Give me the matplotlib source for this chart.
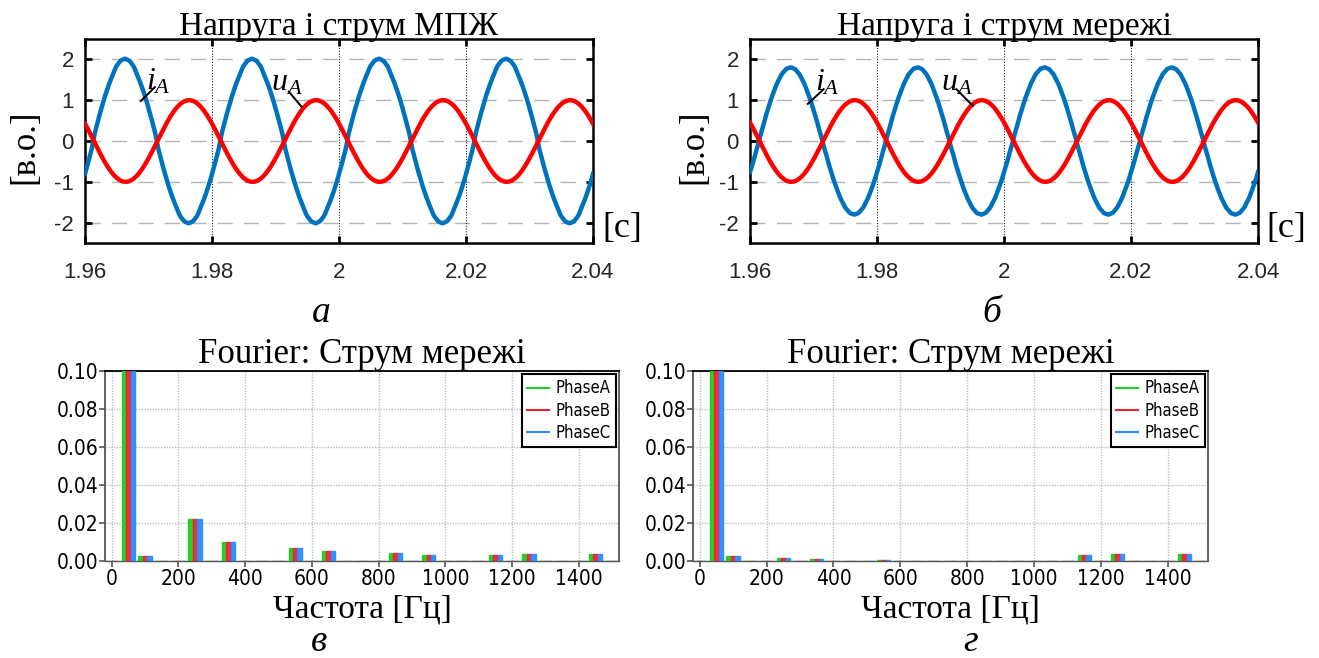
import numpy as np
import matplotlib
matplotlib.use("Agg")
import matplotlib.pyplot as plt
from matplotlib.lines import Line2D
from matplotlib import font_manager

plt.rcParams["axes.unicode_minus"] = False
plt.rcParams["mathtext.fontset"] = "custom"
plt.rcParams["mathtext.rm"] = "Liberation Serif"
plt.rcParams["mathtext.it"] = "Liberation Serif:italic"

W, H = 1319, 658
SERIF = "Liberation Serif"

# вузький шрифт для шкал спектра, якщо він є в системі
_cond = [f for f in font_manager.fontManager.ttflist
         if f.name == "DejaVu Sans" and "ondensed" in f.fname]
NARROW_STRETCH = "condensed" if _cond else "normal"

# гармоніки струму (Гц) та їх амплітуди, в.о.
harm_freq = [0, 50, 100, 150, 200, 250, 300, 350, 400, 450, 500, 550, 600, 650,
             700, 750, 800, 850, 900, 950, 1000, 1050, 1100, 1150, 1200, 1250,
             1300, 1350, 1400, 1450, 1500]
spec_mpzh = [0, 2.0, 0.0028, 0, 0, 0.0223, 0, 0.0102, 0, 0, 0, 0.0070, 0, 0.0051,
             0, 0, 0, 0.0042, 0, 0.0031, 0, 0, 0, 0.0031, 0, 0.0037,
             0, 0, 0, 0.0037, 0]
spec_grid = [0, 1.8, 0.0028, 0, 0, 0.0016, 0, 0.0009, 0, 0, 0, 0.0003, 0, 0,
             0, 0, 0, 0, 0, 0, 0, 0, 0, 0.0033, 0, 0.0039,
             0, 0, 0, 0.0035, 0]

# фаза: момент переходу через нуль (с)
t0_i = [1.9613, 1.9614]
t0_u = [1.9614, 1.9615]
u_amp = [1.0, 1.0]

t_lim = (1.96, 2.04)
t_ticks = [1.96, 1.98, 2.0, 2.02, 2.04]
t_labels = ["1.96", "1.98", "2", "2.02", "2.04"]
y_ticks = [-2, -1, 0, 1, 2]

titles_top = ["Напруга і струм МПЖ", "Напруга і струм мережі"]
titles_bot = ["Fourier: Струм мережі", "Fourier: Струм мережі"]
letters = ["а", "б", "в", "г"]
phases = ["PhaseA", "PhaseB", "PhaseC"]
phase_colors = ["#1fcc1f", "#ee2233", "#2a8cff"]

# підписи кривих: (t, y) тексту та кінці виноски
lbl_i = [(1.9696, 1.47, 1.9688, 0.98, 1.9710, 1.32),
         (1.9703, 1.44, 1.9691, 0.91, 1.9716, 1.27)]
lbl_u = [(1.9893, 1.44, 1.9921, 1.21, 1.9941, 0.84),
         (1.9901, 1.44, 1.9925, 1.27, 1.9951, 0.86)]


def fig_xy(x, y):
    return x / W, 1 - y / H


def axes_rect(x0, y0, x1, y1):
    return [x0 / W, 1 - y1 / H, (x1 - x0) / W, (y1 - y0) / H]


def current(t, t0, spec):
    th = 2 * np.pi * 50 * (t - t0)
    out = np.zeros_like(t)
    for f, a in zip(harm_freq, spec):
        if f > 0 and a > 0:
            out += a * np.sin(f / 50 * th)
    return out


def draw_wave(ax, k, spec):
    t = np.linspace(t_lim[0], t_lim[1], 3001)
    i = current(t, t0_i[k], spec)
    u = -u_amp[k] * np.sin(2 * np.pi * 50 * (t - t0_u[k]))
    ax.plot(t, i, color="#0072BD", lw=3.2, zorder=3)
    ax.plot(t, u, color="#ff0000", lw=3.2, zorder=4)
    ax.set_xlim(*t_lim)
    ax.set_ylim(-2.5, 2.5)
    ax.set_xticks(t_ticks)
    ax.set_xticklabels(t_labels)
    ax.set_yticks(y_ticks)
    ax.tick_params(direction="in", length=5, width=2, top=True, right=True,
                   labelsize=16, labelcolor="#262626", colors="#000000")
    ax.tick_params(axis="x", pad=14)
    ax.tick_params(axis="y", pad=8)
    for lab in ax.get_xticklabels() + ax.get_yticklabels():
        lab.set_family("Liberation Sans")
    for s in ax.spines.values():
        s.set_linewidth(1.8)
    for y in y_ticks:
        ax.axhline(y, color="#b4b4b4", lw=1.0, dashes=(11, 8), zorder=1)
    for x in t_ticks[1:-1]:
        ax.axvline(x, color="#222222", lw=0.8, dashes=(1, 1.5), zorder=1)
    ax.set_title(titles_top[k], family=SERIF, fontsize=24, pad=3)

    tx, ty, x0, y0, x1, y1 = lbl_i[k]
    ax.text(tx, ty, r"$i_A$", fontsize=23, ha="left", va="center", zorder=6)
    ax.plot([x0, x1], [y0, y1], color="black", lw=1.4, zorder=6)
    tx, ty, x0, y0, x1, y1 = lbl_u[k]
    ax.text(tx, ty, r"$u_A$", fontsize=23, ha="left", va="center", zorder=6)
    ax.plot([x0, x1], [y0, y1], color="black", lw=1.4, zorder=6)


def draw_spectrum(ax, k, spec):
    f = np.array(harm_freq, dtype=float)
    vals = np.array(spec)
    w = 13.3
    for j, c in enumerate(phase_colors):
        ax.bar(f + (j - 1) * w, vals, width=w, color=c, edgecolor=c,
               linewidth=1.0, alpha=0.95, zorder=3)
    ax.set_xlim(-20, 1520)
    ax.set_ylim(0, 0.1)
    ax.set_xticks(np.arange(0, 1401, 200))
    ax.set_yticks(np.arange(0, 0.101, 0.02))
    ax.set_yticklabels([f"{v:.2f}" for v in np.arange(0, 0.101, 0.02)])
    ax.grid(True, color="#bdbdbd", lw=1.0, ls=(0, (1, 1)), zorder=0)
    ax.tick_params(direction="out", length=4, width=1.2, color="#555555",
                   labelsize=15, labelcolor="black")
    ax.tick_params(axis="y", pad=1)
    ax.tick_params(axis="x", pad=2)
    for lab in ax.get_xticklabels() + ax.get_yticklabels():
        lab.set_family("DejaVu Sans")
        lab.set_stretch(NARROW_STRETCH)
    ax.spines["top"].set_color("black")
    ax.spines["top"].set_linewidth(1.3)
    for s in ("left", "right"):
        ax.spines[s].set_color("#555555")
        ax.spines[s].set_linewidth(1.3)
    ax.spines["bottom"].set_color("#555555")
    ax.spines["bottom"].set_linewidth(1.0)
    ax.set_title(titles_bot[k], family=SERIF, fontsize=25, pad=0)
    ax.set_xlabel("Частота [Гц]", family=SERIF, fontsize=24, labelpad=3)
    handles = [Line2D([], [], color=c, lw=1.5) for c in phase_colors]
    leg = ax.legend(handles, phases, loc="upper right", fancybox=False,
                    framealpha=1, edgecolor="black", borderaxespad=0.2,
                    handlelength=1.3, handletextpad=0.4, borderpad=0.3,
                    labelspacing=0.25,
                    prop={"family": "DejaVu Sans", "stretch": NARROW_STRETCH,
                          "size": 12})
    leg.get_frame().set_linewidth(1.5)


fig = plt.figure(figsize=(W / 100, H / 100), dpi=100)

ax_tl = fig.add_axes(axes_rect(85, 39, 593, 243))
ax_tr = fig.add_axes(axes_rect(750, 39, 1258, 243))
ax_bl = fig.add_axes(axes_rect(105, 371, 619, 561))
ax_br = fig.add_axes(axes_rect(693, 371, 1208, 561))

draw_wave(ax_tl, 0, spec_mpzh)
draw_wave(ax_tr, 1, spec_grid)
draw_spectrum(ax_bl, 0, spec_mpzh)
draw_spectrum(ax_br, 1, spec_grid)

for x in (25, 694):
    fig.text(*fig_xy(x, 147), "[в.о.]", family=SERIF, fontsize=25,
             rotation=90, ha="center", va="center")
for x in (622, 1286):
    fig.text(*fig_xy(x, 229), "[c]", family=SERIF, fontsize=26,
             ha="center", va="center")

letter_pos = [(321, 313), (992, 313), (319, 642), (971, 642)]
for (x, y), s in zip(letter_pos, letters):
    fig.text(*fig_xy(x, y), s, family=SERIF, style="italic", fontsize=27,
             ha="center", va="center")

fig.savefig("out.png", dpi=100)
